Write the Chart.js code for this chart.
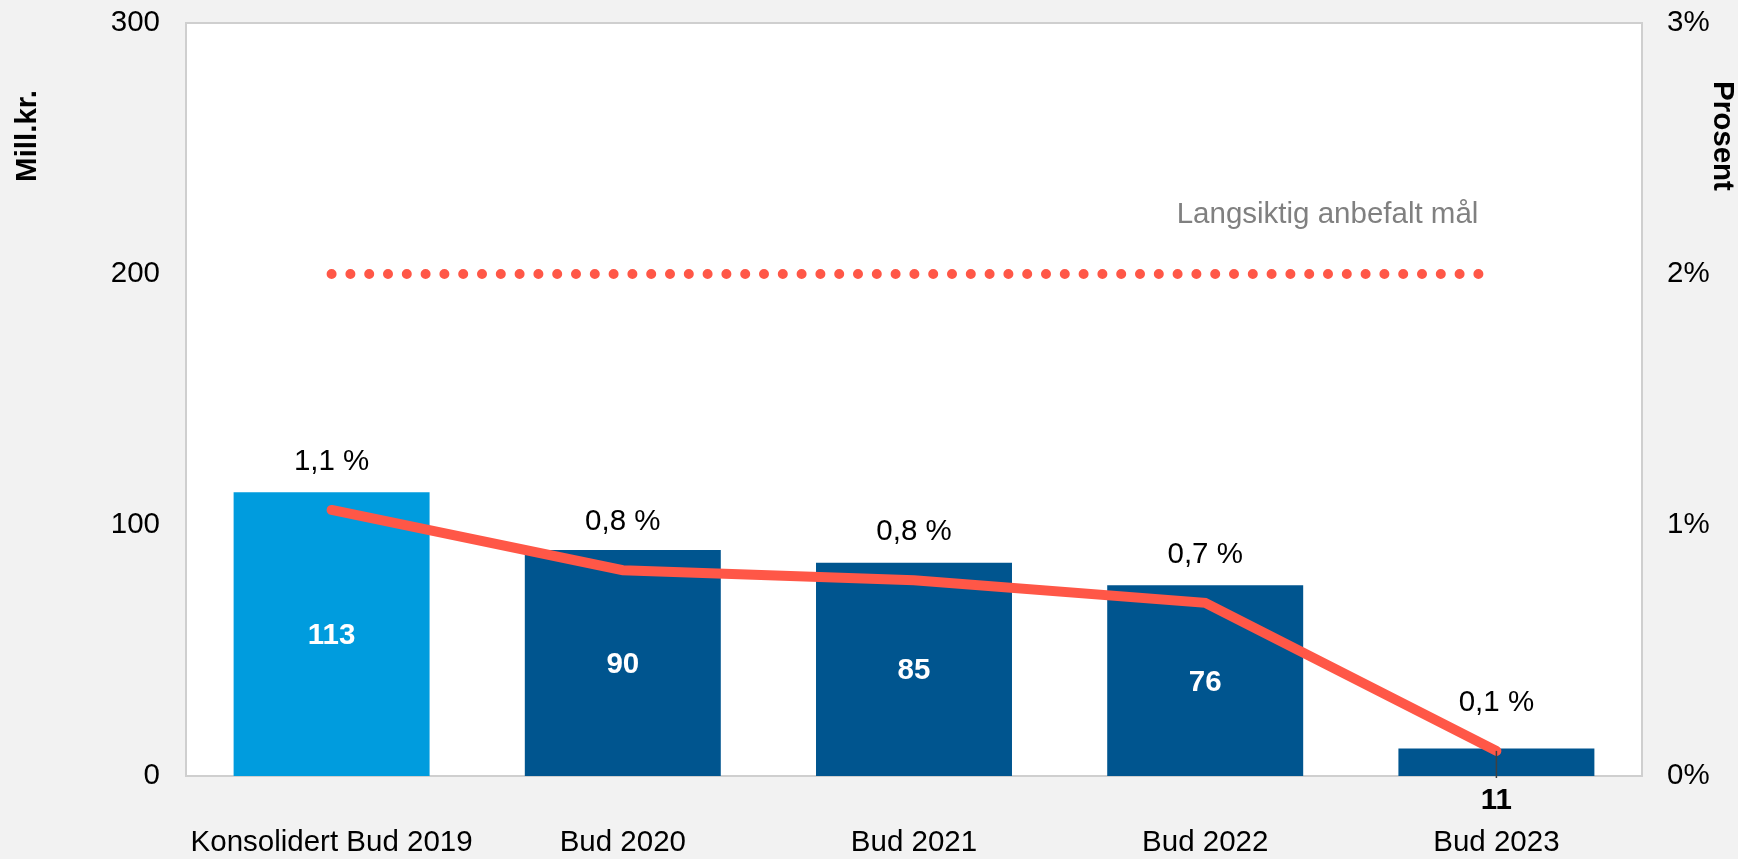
<!DOCTYPE html>
<html>
<head>
<meta charset="utf-8">
<script src="https://cdn.jsdelivr.net/npm/chart.js"></script>
<style>
  body { margin: 0; background: #f2f2f2; }
  #wrap { width: 1738px; height: 859px; }
</style>
</head>
<body>
<div id="wrap"><canvas id="myChart" width="1738" height="859"></canvas></div>
<script>
// data
var categories = ["Konsolidert Bud 2019", "Bud 2020", "Bud 2021", "Bud 2022", "Bud 2023"];
var budget = [113, 90, 85, 76, 11];              // Mill.kr.
var share = [1.06, 0.82, 0.78, 0.69, 0.10];      // Prosent
var shareLabels = ["1,1 %", "0,8 %", "0,8 %", "0,7 %", "0,1 %"];
var target = [2, 2, 2, 2, 2];                     // langsiktig mål
var targetLabel = "Langsiktig anbefalt mål";
var leftMax = 300, rightMax = 3;

var font = "'Liberation Sans', Arial, sans-serif";
var fs = 29.5;
var red = '#FF5747';

var extras = {
    id: 'extras',
    beforeDraw: function(chart) {
        var a = chart.chartArea, c = chart.ctx;
        c.save();
        c.fillStyle = '#f2f2f2';
        c.fillRect(0, 0, chart.width, chart.height);
        c.fillStyle = '#ffffff';
        c.fillRect(a.left, a.top, a.right - a.left, a.bottom - a.top);
        c.strokeStyle = '#cfcfcf';
        c.lineWidth = 2;
        c.strokeRect(a.left, a.top, a.right - a.left, a.bottom - a.top);
        c.restore();
    },
    afterDatasetsDraw: function(chart) {
        var c = chart.ctx;
        var bars = chart.getDatasetMeta(0).data;
        var pts = chart.getDatasetMeta(1).data;
        var y1 = chart.scales.y1;
        var a = chart.chartArea;
        c.save();
        c.textAlign = 'center';
        c.textBaseline = 'middle';

        // value labels in the bars
        c.font = 'bold ' + fs + 'px ' + font;
        for (var i = 0; i < bars.length; i++) {
            var b = bars[i];
            if (i == bars.length - 1) {
                c.fillStyle = '#000000';
                c.fillText(budget[i], b.x, a.bottom + 25);
            } else {
                c.fillStyle = '#ffffff';
                c.fillText(budget[i], b.x, (b.y + b.base) / 2 + 2);
            }
        }

        // leader line for the last label
        var last = pts[pts.length - 1];
        c.strokeStyle = '#404040';
        c.lineWidth = 1.5;
        c.beginPath();
        c.moveTo(last.x, last.y);
        c.lineTo(last.x, a.bottom + 2);
        c.stroke();

        // percent labels above the line
        c.font = fs + 'px ' + font;
        c.fillStyle = '#000000';
        for (var j = 0; j < pts.length; j++) {
            c.fillText(shareLabels[j], pts[j].x, pts[j].y - 48);
        }

        // target text
        c.fillStyle = '#808080';
        c.textAlign = 'right';
        c.fillText(targetLabel, last.x - 18, y1.getPixelForValue(target[0]) - 59);

        // axis titles
        c.fillStyle = '#000000';
        c.textAlign = 'center';
        c.font = 'bold ' + fs + 'px ' + font;
        c.translate(28, 136);
        c.rotate(-Math.PI / 2);
        c.fillText('Mill.kr.', 0, 0);
        c.setTransform(1, 0, 0, 1, 0, 0);
        c.translate(1722, 136);
        c.rotate(Math.PI / 2);
        c.fillText('Prosent', 0, 0);
        c.restore();
    }
};

var ctx = document.getElementById('myChart').getContext('2d');
var chart = new Chart(ctx, {
    type: 'bar',
    data: {
        labels: categories,
        datasets: [{
            label: 'Mill.kr.',
            data: budget,
            backgroundColor: ['#009CDE', '#00558F', '#00558F', '#00558F', '#00558F'],
            barPercentage: 0.673,
            categoryPercentage: 1,
            yAxisID: 'y',
            order: 2
        }, {
            type: 'line',
            label: 'Prosent',
            data: share,
            borderColor: red,
            borderWidth: 10,
            borderCapStyle: 'round',
            pointRadius: 0,
            tension: 0,
            yAxisID: 'y1',
            order: 0
        }, {
            type: 'line',
            label: targetLabel,
            data: target,
            borderColor: red,
            borderWidth: 10,
            borderDash: [0, 18.8],
            borderCapStyle: 'round',
            pointRadius: 0,
            yAxisID: 'y1',
            order: 1
        }]
    },
    options: {
        responsive: false,
        animation: false,
        layout: { padding: { top: 23, left: 0, right: 0, bottom: 0 } },
        plugins: {
            legend: { display: false },
            tooltip: { enabled: false }
        },
        scales: {
            x: {
                grid: { display: false, drawTicks: false },
                border: { display: false },
                ticks: {
                    color: '#000000',
                    font: { family: font, size: fs },
                    padding: 49,
                    maxRotation: 0,
                    autoSkip: false
                },
                afterFit: function(s) { s.height = 83; }
            },
            y: {
                position: 'left',
                min: 0,
                max: leftMax,
                grid: { display: false, drawTicks: false },
                border: { display: false },
                ticks: {
                    stepSize: 100,
                    color: '#000000',
                    font: { family: font, size: fs },
                    padding: 26
                },
                afterFit: function(s) { s.width = 186; s.paddingTop = 0; s.paddingBottom = 0; }
            },
            y1: {
                position: 'right',
                min: 0,
                max: rightMax,
                grid: { display: false, drawTicks: false },
                border: { display: false },
                ticks: {
                    stepSize: 1,
                    color: '#000000',
                    font: { family: font, size: fs },
                    padding: 25,
                    callback: function(v) { return v + '%'; }
                },
                afterFit: function(s) { s.width = 96; s.paddingTop = 0; s.paddingBottom = 0; }
            }
        }
    },
    plugins: [extras]
});
</script>
</body>
</html>
